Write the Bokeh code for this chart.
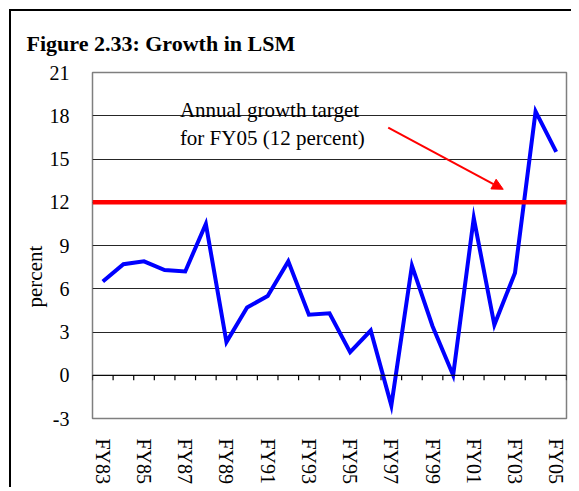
from bokeh.plotting import figure
from bokeh.models import (Range1d, FixedTicker, Span, Label, Arrow, NormalHead,
                          Title, CustomJSTickFormatter)
from bokeh.embed import file_html
from bokeh.resources import INLINE

# ---- data ----
years = ["FY83", "FY84", "FY85", "FY86", "FY87", "FY88", "FY89", "FY90", "FY91",
         "FY92", "FY93", "FY94", "FY95", "FY96", "FY97", "FY98", "FY99", "FY00",
         "FY01", "FY02", "FY03", "FY04", "FY05"]
growth = [6.5, 7.7, 7.9, 7.3, 7.2, 10.5, 2.3, 4.7, 5.5, 7.9, 4.2, 4.3, 1.6, 3.1,
          -2.1, 7.6, 3.4, 0.0, 10.9, 3.5, 7.1, 18.3, 15.5]
target = 12
y_ticks = [-3, 0, 3, 6, 9, 12, 15, 18, 21]
title_text = "Figure 2.33: Growth in LSM"
note_lines = ["Annual growth  target", "for FY05 (12 percent)"]
y_label = "percent"

SERIF = "Liberation Serif"
n = len(years)
xc = [i + 0.5 for i in range(n)]          # category centres
bounds = list(range(n + 1))                # category boundaries

p = figure(frame_width=474, frame_height=346, output_backend="svg",
           toolbar_location=None,
           x_range=Range1d(0, n), y_range=Range1d(y_ticks[0], y_ticks[-1]),
           min_border_left=81, min_border_right=5, min_border_top=61,
           min_border_bottom=0)
p.styles = {"margin-left": "9px", "margin-top": "9px",
            "border-left": "2px solid black", "border-top": "2px solid black"}
p.background_fill_color = "white"
p.border_fill_color = "white"
p.outline_line_color = "#7f7f7f"
p.outline_line_width = 1.5

# title
p.title.text = title_text
p.title.align = "left"
p.title.vertical_align = "top"
p.title.offset = -66
p.title.standoff = 30
p.title.text_font = SERIF
p.title.text_font_style = "bold"
p.title.text_font_size = "22px"
p.title.text_color = "black"

# x axis: label every other category
p.xaxis.ticker = FixedTicker(ticks=xc[::2])
p.xaxis.formatter = CustomJSTickFormatter(args=dict(labels=years),
                                          code="return labels[Math.floor(tick)]")
p.xaxis.major_label_orientation = "vertical"
p.xaxis.major_tick_line_color = None
p.xaxis.minor_tick_line_color = None
p.xaxis.axis_line_color = None
p.xaxis.major_label_standoff = 14
p.xaxis.major_label_text_font = SERIF
p.xaxis.major_label_text_font_size = "20px"
p.xaxis.major_label_text_color = "black"
p.xgrid.grid_line_color = None

# y axis
p.yaxis.ticker = FixedTicker(ticks=y_ticks)
p.yaxis.formatter = CustomJSTickFormatter(code="return String(tick)")
p.yaxis.major_tick_line_color = None
p.yaxis.minor_tick_line_color = None
p.yaxis.axis_line_color = None
p.yaxis.major_label_standoff = 17
p.yaxis.major_label_text_font = SERIF
p.yaxis.major_label_text_font_size = "20px"
p.yaxis.major_label_text_color = "black"
p.ygrid.ticker = FixedTicker(ticks=y_ticks)
p.ygrid.grid_line_color = "#262626"
p.ygrid.grid_line_width = 1

ylab = Title(text=y_label, align="left", offset=111, standoff=0,
             text_font=SERIF, text_font_style="normal", text_font_size="21px",
             text_color="black")
p.add_layout(ylab, "left")

# zero axis line with category-boundary ticks
p.add_layout(Span(location=0, dimension="width", line_color="black", line_width=1.2))
p.segment(x0=bounds, y0=[0] * len(bounds), x1=bounds, y1=[-0.35] * len(bounds),
          line_color="black", line_width=1.2)

# target line
p.add_layout(Span(location=target, dimension="width", line_color="#ff0000", line_width=4.5))

# growth series
p.line(x=xc, y=growth, line_color="#0000ff", line_width=4, line_join="miter")

# annotation text and arrow
p.add_layout(Label(x=4.24, y=18.4, text=note_lines[0], text_font=SERIF,
                   text_font_size="21px", text_color="black",
                   text_baseline="alphabetic"))
p.add_layout(Label(x=4.24, y=16.44, text=note_lines[1], text_font=SERIF,
                   text_font_size="21px", text_color="black",
                   text_baseline="alphabetic"))
p.add_layout(Arrow(x_start=14.35, y_start=17.18, x_end=19.93, y_end=12.9,
                   line_color="#ff0000", line_width=2,
                   end=NormalHead(size=11, fill_color="#ff0000", line_color="#ff0000")))

open("out.html", "w").write(file_html(p, INLINE))
